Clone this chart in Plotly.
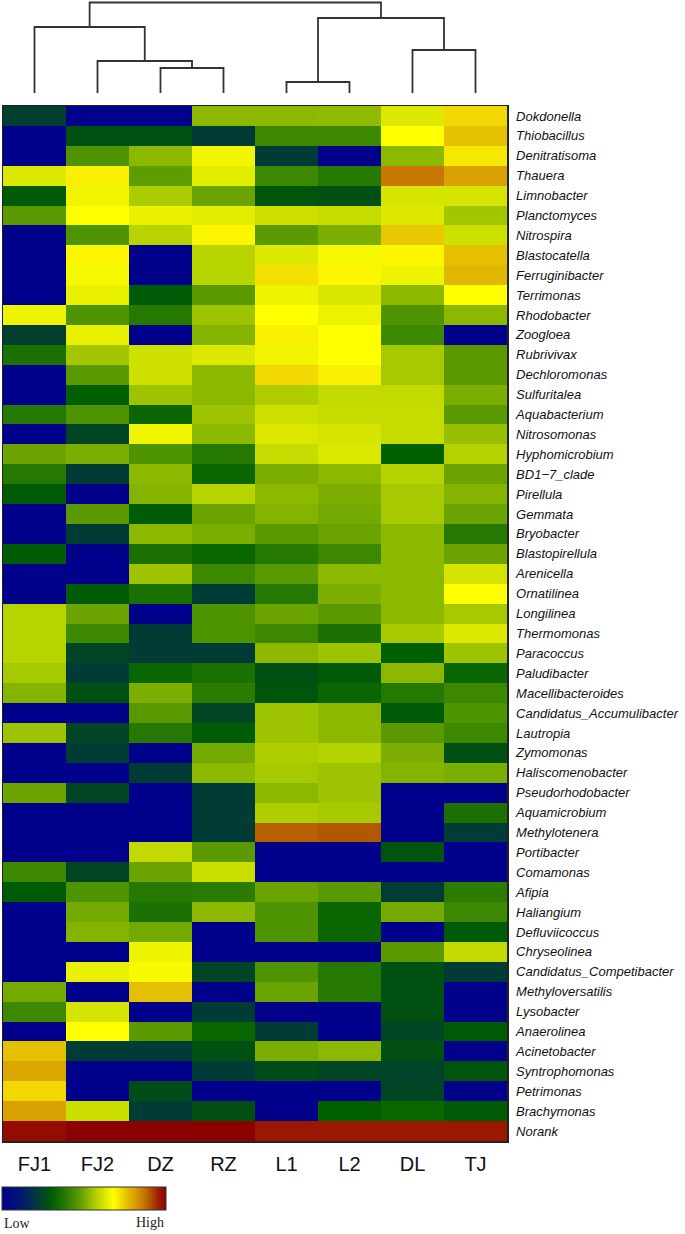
import plotly.graph_objects as go

W, H = 685, 1234

samples = ["FJ1", "FJ2", "DZ", "RZ", "L1", "L2", "DL", "TJ"]

genera = ["Dokdonella", "Thiobacillus", "Denitratisoma", "Thauera", "Limnobacter",
          "Planctomyces", "Nitrospira", "Blastocatella", "Ferruginibacter", "Terrimonas",
          "Rhodobacter", "Zoogloea", "Rubrivivax", "Dechloromonas", "Sulfuritalea",
          "Aquabacterium", "Nitrosomonas", "Hyphomicrobium", "BD1\u22127_clade", "Pirellula",
          "Gemmata", "Bryobacter", "Blastopirellula", "Arenicella", "Ornatilinea",
          "Longilinea", "Thermomonas", "Paracoccus", "Paludibacter", "Macellibacteroides",
          "Candidatus_Accumulibacter", "Lautropia", "Zymomonas", "Haliscomenobacter",
          "Pseudorhodobacter", "Aquamicrobium", "Methylotenera", "Portibacter", "Comamonas",
          "Afipia", "Haliangium", "Defluviicoccus", "Chryseolinea", "Candidatus_Competibacter",
          "Methyloversatilis", "Lysobacter", "Anaerolinea", "Acinetobacter", "Syntrophomonas",
          "Petrimonas", "Brachymonas", "Norank"]

# relative (scaled) abundance per sample, rows in the order of `genera`
FJ1 = [0.23, 0, 0, 0.63, 0.30, 0.47, 0, 0, 0, 0,
       0.655, 0.23, 0.36, 0, 0, 0.38, 0, 0.49, 0.38, 0.30,
       0, 0, 0.30, 0, 0, 0.58, 0.58, 0.58, 0.56, 0.52,
       0, 0.55, 0, 0, 0.49, 0, 0, 0, 0.42, 0.30,
       0, 0, 0, 0, 0.50, 0.42, 0, 0.76, 0.80, 0.73,
       0.81, 0.98]
FJ2 = [0, 0.28, 0.45, 0.70, 0.66, 0.68, 0.45, 0.69, 0.665, 0.65,
       0.45, 0.65, 0.555, 0.47, 0.31, 0.45, 0.25, 0.51, 0.22, 0,
       0.47, 0.22, 0, 0, 0.30, 0.49, 0.42, 0.25, 0.22, 0.28,
       0, 0.25, 0.22, 0, 0.25, 0, 0, 0, 0.25, 0.45,
       0.50, 0.52, 0, 0.65, 0, 0.62, 0.68, 0.22, 0, 0,
       0.605, 1.0]
DZ = [0, 0.28, 0.53, 0.475, 0.565, 0.65, 0.58, 0, 0, 0.30,
      0.38, 0, 0.61, 0.61, 0.55, 0.33, 0.66, 0.45, 0.53, 0.52,
      0.30, 0.53, 0.36, 0.55, 0.36, 0, 0.22, 0.22, 0.33, 0.51,
      0.47, 0.38, 0, 0.22, 0, 0, 0, 0.595, 0.49, 0.38,
      0.36, 0.50, 0.655, 0.67, 0.76, 0, 0.47, 0.22, 0, 0.27,
      0.22, 1.0]
RZ = [0.53, 0.22, 0.66, 0.64, 0.49, 0.64, 0.69, 0.58, 0.58, 0.47,
      0.55, 0.52, 0.63, 0.53, 0.53, 0.55, 0.53, 0.38, 0.33, 0.58,
      0.49, 0.51, 0.33, 0.42, 0.22, 0.45, 0.45, 0.22, 0.36, 0.39,
      0.25, 0.30, 0.50, 0.53, 0.22, 0.22, 0.22, 0.47, 0.605, 0.39,
      0.53, 0, 0, 0.25, 0, 0.22, 0.33, 0.28, 0.22, 0,
      0.28, 1.0]
L1 = [0.53, 0.42, 0.22, 0.42, 0.29, 0.61, 0.47, 0.63, 0.72, 0.655,
      0.68, 0.70, 0.66, 0.73, 0.57, 0.61, 0.63, 0.60, 0.51, 0.53,
      0.52, 0.47, 0.38, 0.47, 0.38, 0.49, 0.42, 0.53, 0.28, 0.29,
      0.55, 0.55, 0.57, 0.56, 0.53, 0.57, 0.89, 0, 0, 0.49,
      0.45, 0.45, 0, 0.45, 0.49, 0, 0.22, 0.51, 0.27, 0,
      0, 0.96]
L2 = [0.535, 0.42, 0, 0.38, 0.28, 0.60, 0.51, 0.665, 0.69, 0.625,
      0.655, 0.68, 0.68, 0.70, 0.595, 0.60, 0.62, 0.63, 0.53, 0.51,
      0.50, 0.49, 0.42, 0.53, 0.51, 0.47, 0.36, 0.55, 0.30, 0.33,
      0.53, 0.53, 0.575, 0.55, 0.55, 0.56, 0.90, 0, 0, 0.47,
      0.33, 0.33, 0, 0.38, 0.38, 0, 0, 0.53, 0.25, 0,
      0.31, 0.96]
DL = [0.63, 0.68, 0.53, 0.86, 0.62, 0.63, 0.75, 0.69, 0.655, 0.53,
      0.45, 0.42, 0.56, 0.56, 0.595, 0.60, 0.60, 0.31, 0.575, 0.56,
      0.56, 0.53, 0.53, 0.53, 0.53, 0.53, 0.56, 0.31, 0.53, 0.38,
      0.30, 0.47, 0.51, 0.52, 0, 0, 0, 0.29, 0, 0.22,
      0.50, 0, 0.47, 0.28, 0.28, 0.28, 0.25, 0.28, 0.24, 0.25,
      0.33, 0.96]
TJ = [0.73, 0.76, 0.71, 0.81, 0.62, 0.555, 0.61, 0.76, 0.77, 0.68,
      0.53, 0, 0.47, 0.47, 0.51, 0.47, 0.545, 0.575, 0.49, 0.52,
      0.49, 0.38, 0.49, 0.62, 0.68, 0.56, 0.63, 0.55, 0.33, 0.42,
      0.45, 0.42, 0.28, 0.51, 0, 0.36, 0.22, 0, 0, 0.39,
      0.42, 0.30, 0.595, 0.22, 0, 0, 0.30, 0, 0.29, 0,
      0.30, 0.96]

# hierarchical clustering of samples (leaf indices in display order, merge height)
merge_left = [2, 1, 0, 4, 6, 11, 10]
merge_right = [3, 8, 9, 5, 7, 12, 13]
merge_height = [25, 32, 66, 11, 43, 75, 90.5]

colorscale = [
    [0.00, "#00008B"], [0.10, "#001478"], [0.22, "#003C36"], [0.28, "#005014"],
    [0.31, "#006000"], [0.36, "#1A7000"], [0.42, "#3C8800"], [0.47, "#5A9A00"],
    [0.53, "#8CB800"], [0.58, "#B8D400"], [0.63, "#DCE800"], [0.68, "#FFFF00"],
    [0.73, "#F0D800"], [0.77, "#E0B800"], [0.81, "#D8A000"], [0.86, "#C87800"],
    [0.90, "#B05800"], [0.96, "#9A1800"], [1.00, "#8B0000"],
]

cols = [FJ1, FJ2, DZ, RZ, L1, L2, DL, TJ]
z = [[c[i] for c in cols] for i in range(len(genera))]

fig = go.Figure()

fig.add_trace(go.Heatmap(
    z=z, x=samples, y=genera, zmin=0, zmax=1, colorscale=colorscale,
    xgap=0, ygap=0, hoverinfo="skip",
    colorbar=dict(
        orientation="h", x=2 / W, xanchor="left", y=1 - 1187 / H, yanchor="top",
        lenmode="pixels", len=164, thicknessmode="pixels", thickness=23,
        outlinewidth=1, outlinecolor="#333", xpad=0, ypad=0,
        showticklabels=False, ticks="",
    ),
    xaxis="x", yaxis="y",
))

# dendrogram
n = len(samples)
pos = {i: float(i) for i in range(n)}
hgt = {i: 0.0 for i in range(n)}
dx, dy = [], []
for k, (a, b, h) in enumerate(zip(merge_left, merge_right, merge_height)):
    dx += [pos[a], pos[a], pos[b], pos[b], None]
    dy += [hgt[a], h, h, hgt[b], None]
    pos[n + k] = (pos[a] + pos[b]) / 2
    hgt[n + k] = h
fig.add_trace(go.Scatter(x=dx, y=dy, mode="lines", line=dict(color="#333333", width=1.8),
                         xaxis="x2", yaxis="y2", hoverinfo="skip", showlegend=False))

x0, x1 = 3 / W, 507 / W
fig.update_layout(
    width=W, height=H, margin=dict(l=0, r=0, t=0, b=0),
    paper_bgcolor="white", plot_bgcolor="white", showlegend=False,
    font=dict(family="Liberation Sans, Arial, sans-serif", color="#111"),
    xaxis=dict(domain=[x0, x1], range=[-0.5, 7.5], showgrid=False, zeroline=False,
               showline=True, mirror=True, linecolor="#222", linewidth=1.5,
               tickfont=dict(size=20, color="#111"), ticks="", ticklabelstandoff=4,
               automargin=False, fixedrange=True),
    yaxis=dict(domain=[1 - 1141 / H, 1 - 106 / H], autorange="reversed", side="right",
               showgrid=False, zeroline=False, showline=True, mirror=True,
               linecolor="#222", linewidth=1.5,
               tickfont=dict(size=13, color="#111", style="italic"), ticks="",
               ticklabelstandoff=5, automargin=False, fixedrange=True),
    xaxis2=dict(domain=[x0, x1], range=[-0.5, 7.5], anchor="y2", visible=False,
                fixedrange=True),
    yaxis2=dict(domain=[1 - 93 / H, 1 - 1 / H], range=[0, 92], anchor="x2",
                visible=False, fixedrange=True),
    annotations=[
        dict(text="Low", x=2 / W, y=1 - 1223 / H, xref="paper", yref="paper",
             xanchor="left", yanchor="middle", showarrow=False,
             font=dict(family="Liberation Serif, Times New Roman, serif", size=14, color="#222")),
        dict(text="High", x=166 / W, y=1 - 1222 / H, xref="paper", yref="paper",
             xanchor="right", yanchor="middle", showarrow=False,
             font=dict(family="Liberation Serif, Times New Roman, serif", size=14, color="#222")),
    ],
)

fig.write_html(
    "out.html",
    config={"displayModeBar": False, "staticPlot": True},
    post_script="document.body.style.margin='0';document.body.style.padding='0';"
                "document.body.style.overflow='hidden';",
)
